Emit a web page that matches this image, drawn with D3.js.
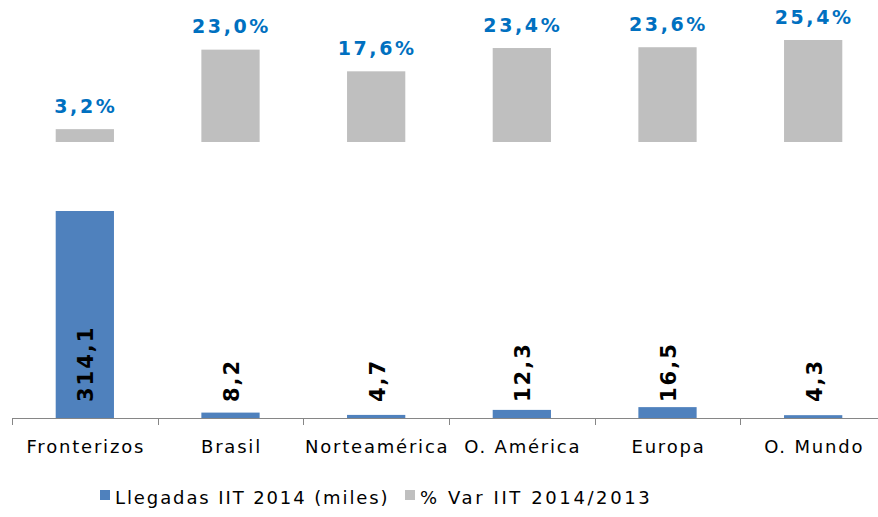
<!doctype html>
<html>
  <head>
    <meta charset="utf8">
    <script src="https://d3js.org/d3.v7.min.js"></script>
    <style type="text/css">
      body { margin: 0; background: #fff; font-family: 'DejaVu Sans', Verdana, sans-serif; }
    </style>
  </head>
  <body>
    <script type="text/javascript">
      const w = 878;
      const h = 517;

      // values
      const categories = ['Fronterizos', 'Brasil', 'Norteamérica', 'O. América', 'Europa', 'O. Mundo'];
      const llegadas = [314.1, 8.2, 4.7, 12.3, 16.5, 4.3];
      const variacion = [3.2, 23.0, 17.6, 23.4, 23.6, 25.4];
      const legendLabels = ['Llegadas IIT 2014 (miles)', '% Var IIT 2014/2013'];

      const blue = '#4f81bd';
      const grey = '#bfbfbf';
      const fmt = (v) => v.toFixed(1).replace('.', ',');

      const svg = d3.select('body')
        .append('svg')
        .attr('width', w)
        .attr('height', h);

      const xScale = d3.scaleBand()
        .domain(categories)
        .range([12, 886])
        .paddingInner(0.6)
        .paddingOuter(0.3);

      // bottom panel: arrivals
      const yLow = d3.scaleLinear()
        .domain([0, 314.1])
        .range([418, 211]);

      // top panel: % change
      const yTop = d3.scaleLinear()
        .domain([0, 25.4])
        .range([142, 40]);

      const step = xScale.step();

      svg.selectAll('rect.var')
        .data(variacion)
        .enter()
        .append('rect')
        .attr('class', 'var')
        .attr('x', (d, i) => xScale(categories[i]))
        .attr('y', (d) => yTop(d))
        .attr('width', xScale.bandwidth())
        .attr('height', (d) => yTop(0) - yTop(d))
        .attr('fill', grey);

      svg.selectAll('text.var')
        .data(variacion)
        .enter()
        .append('text')
        .attr('class', 'var')
        .attr('x', (d, i) => xScale(categories[i]) + xScale.bandwidth() / 2 + 1)
        .attr('y', (d) => yTop(d) - 16.5)
        .attr('text-anchor', 'middle')
        .attr('font-size', '19px')
        .attr('font-weight', 'bold')
        .attr('letter-spacing', '2.6px')
        .attr('fill', '#0070c0')
        .text((d) => fmt(d) + '%');

      svg.selectAll('rect.lleg')
        .data(llegadas)
        .enter()
        .append('rect')
        .attr('class', 'lleg')
        .attr('x', (d, i) => xScale(categories[i]))
        .attr('y', (d) => yLow(d))
        .attr('width', xScale.bandwidth())
        .attr('height', (d) => yLow(0) - yLow(d))
        .attr('fill', blue);

      svg.selectAll('text.lleg')
        .data(llegadas)
        .enter()
        .append('text')
        .attr('class', 'lleg')
        .attr('transform', (d, i) => {
          const cx = xScale(categories[i]) + xScale.bandwidth() / 2 + 1;
          return 'translate(' + cx + ',' + (yLow(0) - 16) + ') rotate(-90)';
        })
        .attr('dy', '0.36em')
        .attr('font-size', '21px')
        .attr('font-weight', 'bold')
        .attr('letter-spacing', '2px')
        .attr('fill', '#000')
        .text((d) => fmt(d));

      // category axis
      const axis = svg.append('g');
      axis.append('line')
        .attr('x1', 12).attr('x2', w)
        .attr('y1', 418.5).attr('y2', 418.5)
        .attr('stroke', '#868686');

      axis.selectAll('line.tick')
        .data(categories)
        .enter()
        .append('line')
        .attr('class', 'tick')
        .attr('x1', (d) => Math.round(xScale(d) - (step - xScale.bandwidth()) / 2) + 0.5)
        .attr('x2', (d) => Math.round(xScale(d) - (step - xScale.bandwidth()) / 2) + 0.5)
        .attr('y1', 418)
        .attr('y2', 425)
        .attr('stroke', '#868686');

      axis.selectAll('text')
        .data(categories)
        .enter()
        .append('text')
        .attr('x', (d) => xScale(d) + xScale.bandwidth() / 2 + 1)
        .attr('y', 453)
        .attr('text-anchor', 'middle')
        .attr('font-size', '18px')
        .attr('letter-spacing', '1.8px')
        .attr('fill', '#000')
        .text((d) => d);

      // legend
      const legend = svg.append('g');
      const legendX = [100, 405];
      const legendColors = [blue, grey];
      const legendSpacing = ['1.9px', '2.6px'];
      legend.selectAll('rect')
        .data(legendLabels)
        .enter()
        .append('rect')
        .attr('x', (d, i) => legendX[i])
        .attr('y', 490)
        .attr('width', 10)
        .attr('height', 10)
        .attr('fill', (d, i) => legendColors[i]);

      legend.selectAll('text')
        .data(legendLabels)
        .enter()
        .append('text')
        .attr('x', (d, i) => legendX[i] + 15)
        .attr('y', 504)
        .attr('font-size', '18px')
        .attr('letter-spacing', (d, i) => legendSpacing[i])
        .attr('fill', '#000')
        .text((d) => d);
    </script>
  </body>
</html>
